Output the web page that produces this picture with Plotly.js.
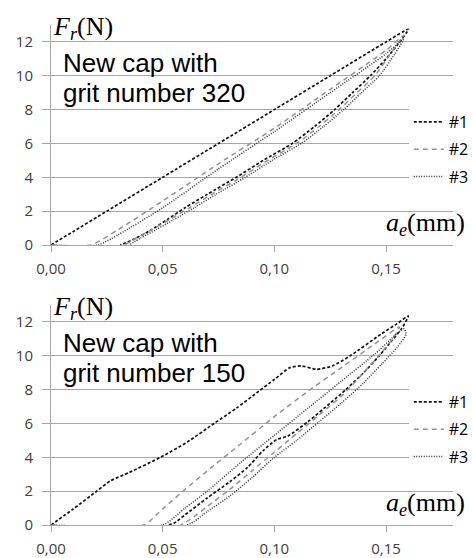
<!DOCTYPE html>
<html>
<head>
<meta charset="utf-8">
<script src="https://cdn.plot.ly/plotly-3.0.1.min.js"></script>
<style>html,body{margin:0;padding:0;background:#fff;}#chart{width:473px;height:558px;}</style>
</head>
<body>
<div id="chart"></div>
<script>
// ---------- Data: grit number 320 (top) ----------
const seriesNames = ["#1", "#2", "#3"];
const g320_1x = [0, 0.01, 0.025, 0.05, 0.075, 0.10, 0.125, 0.15, 0.160, 0.155, 0.150, 0.143, 0.135, 0.127, 0.118, 0.108, 0.095, 0.083, 0.070, 0.060, 0.052, 0.045, 0.038, 0.033, 0.031];
const g320_1y = [0, 0.8, 2.0, 4.0, 6.0, 8.0, 10.0, 12.0, 12.75, 11.8, 11.0, 10.0, 9.0, 8.0, 7.0, 6.0, 5.0, 4.0, 3.0, 2.2, 1.5, 0.9, 0.4, 0.1, 0];
const g320_2x = [0, 0.018, 0.03, 0.05, 0.075, 0.10, 0.125, 0.15, 0.158, 0.153, 0.145, 0.137, 0.129, 0.120, 0.110, 0.097, 0.085, 0.072, 0.062, 0.053, 0.045, 0.038, 0.033];
const g320_2y = [0, 0, 0.9, 2.6, 4.8, 6.9, 9.2, 11.5, 12.4, 11.5, 10.0, 9.0, 8.0, 7.0, 6.0, 5.0, 4.0, 3.0, 2.2, 1.5, 0.9, 0.4, 0];
const g320_3x = [0, 0.021, 0.03, 0.05, 0.075, 0.10, 0.125, 0.15, 0.158, 0.154, 0.147, 0.139, 0.131, 0.122, 0.112, 0.099, 0.087, 0.074, 0.064, 0.055, 0.047, 0.040, 0.035];
const g320_3y = [0, 0, 0.6, 2.2, 4.5, 6.7, 9.0, 11.3, 12.2, 11.3, 10.0, 9.0, 8.0, 7.0, 6.0, 5.0, 4.0, 3.0, 2.2, 1.5, 0.9, 0.4, 0];

// ---------- Data: grit number 150 (bottom) ----------
const g150_1x = [0, 0.01, 0.02, 0.0265, 0.035, 0.049, 0.061, 0.073, 0.083, 0.093, 0.100, 0.107, 0.112, 0.119, 0.126, 0.134, 0.148, 0.155, 0.160, 0.157, 0.152, 0.147, 0.140, 0.132, 0.125, 0.115, 0.106, 0.101, 0.095, 0.088, 0.080, 0.070, 0.060, 0.055, 0.052];
const g150_1y = [0, 0.95, 1.95, 2.6, 3.1, 4.0, 4.9, 6.0, 6.9, 7.9, 8.6, 9.3, 9.4, 9.2, 9.4, 10.0, 11.3, 11.9, 12.35, 11.6, 10.8, 10.0, 9.0, 8.0, 7.2, 6.1, 5.25, 5.05, 4.4, 3.4, 2.55, 1.6, 0.6, 0.1, 0];
const g150_2x = [0, 0.0415, 0.05, 0.06, 0.07, 0.085, 0.10, 0.115, 0.13, 0.145, 0.156, 0.153, 0.148, 0.140, 0.130, 0.120, 0.110, 0.100, 0.090, 0.080, 0.070, 0.062, 0.058];
const g150_2y = [0, 0, 0.95, 2.1, 3.2, 4.8, 6.4, 7.9, 9.3, 10.7, 11.7, 11.0, 10.2, 9.0, 7.6, 6.5, 5.4, 4.3, 3.2, 2.1, 1.1, 0.3, 0];
const g150_3x = [0, 0.050, 0.06, 0.07, 0.085, 0.10, 0.115, 0.13, 0.145, 0.158, 0.159, 0.155, 0.148, 0.140, 0.130, 0.120, 0.110, 0.100, 0.090, 0.080, 0.070, 0.064, 0.061];
const g150_3y = [0, 0, 1.0, 2.0, 3.7, 5.3, 6.9, 8.5, 10.1, 11.6, 11.3, 10.5, 9.5, 8.4, 7.2, 6.1, 5.0, 4.0, 2.8, 1.7, 0.8, 0.2, 0];

const xTickVals = [0, 0.05, 0.10, 0.15];
const xTickText = ["0,00", "0,05", "0,10", "0,15"];
const yTickVals = [0, 2, 4, 6, 8, 10, 12];

// ---------- Styles ----------
const lineStyles = [
  {color: "#111111", width: 1.7, dash: "3px,2px"},
  {color: "#929292", width: 1.5, dash: "5px,4px"},
  {color: "#333333", width: 1.5, dash: "1px,1.5px"}
];

function mk(x, y, i, xa, ya, lg) {
  return {
    x: x, y: y, type: "scatter", mode: "lines", name: seriesNames[i],
    xaxis: xa, yaxis: ya, legend: lg, legendgroup: lg + i,
    line: Object.assign({shape: "spline", smoothing: 0.6}, lineStyles[i]),
    hoverinfo: "skip"
  };
}

const traces = [
  mk(g320_1x, g320_1y, 0, "x", "y", "legend"),
  mk(g320_2x, g320_2y, 1, "x", "y", "legend"),
  mk(g320_3x, g320_3y, 2, "x", "y", "legend"),
  mk(g150_1x, g150_1y, 0, "x2", "y2", "legend2"),
  mk(g150_2x, g150_2y, 1, "x2", "y2", "legend2"),
  mk(g150_3x, g150_3y, 2, "x2", "y2", "legend2")
];

const gridC = "#a6a6a6";
const tickFont = {family: "Open Sans, sans-serif", size: 15, color: "#404040"};
function xax(anchor) {
  return {
    anchor: anchor, domain: [0, 1], range: [0, 0.18],
    tickmode: "array", tickvals: xTickVals, ticktext: xTickText,
    showline: true, linecolor: gridC, linewidth: 1,
    ticks: "outside", ticklen: 6, tickcolor: gridC,
    showgrid: false, zeroline: false, tickfont: tickFont, ticklabelstandoff: 4
  };
}
function yax(anchor, dom) {
  return {
    anchor: anchor, domain: dom, range: [0, 13],
    tickmode: "array", tickvals: yTickVals,
    showline: true, linecolor: gridC, linewidth: 1,
    ticks: "outside", ticklen: 8, tickcolor: gridC,
    showgrid: true, gridcolor: gridC, gridwidth: 1,
    zeroline: false, tickfont: tickFont, ticklabelstandoff: 6
  };
}

const textFont = {family: "Liberation Sans, Arial, sans-serif", size: 26, color: "#000"};
const serifFont = {family: "Liberation Serif, Times New Roman, serif", size: 26, color: "#000"};

function anns(yr, grit) {
  return [
    {xref: "paper", yref: yr, x: 0.025, y: 10.75, xanchor: "left", yanchor: "middle", text: "New cap with", showarrow: false, font: textFont},
    {xref: "paper", yref: yr, x: 0.025, y: 9.0, xanchor: "left", yanchor: "middle", text: "grit number " + grit, showarrow: false, font: textFont},
    {xref: "paper", yref: yr, x: 0.0, y: 12.85, xanchor: "left", yanchor: "middle", text: "<i>F</i><sub><i>r</i></sub>(N)", showarrow: false, font: serifFont},
    {xref: "paper", yref: yr, x: 1.035, y: 1.25, xanchor: "right", yanchor: "middle", text: "<i>a</i><sub><i>e</i></sub>(mm)", showarrow: false, font: serifFont}
  ];
}

const legendBase = {
  x: 0.89, xanchor: "left", yanchor: "top",
  bgcolor: "#ffffff", borderwidth: 0,
  font: {family: "Open Sans, sans-serif", size: 16, color: "#000"},
  tracegroupgap: 3.5, traceorder: "grouped"
};

const layout = {
  width: 473, height: 558,
  margin: {l: 51, r: 20, t: 25, b: 33, autoexpand: false},
  paper_bgcolor: "#ffffff", plot_bgcolor: "#ffffff",
  showlegend: true,
  xaxis: xax("y"), yaxis: yax("x", [0.56, 1]),
  xaxis2: xax("y2"), yaxis2: yax("x2", [0, 0.44]),
  legend: Object.assign({}, legendBase, {y: 0.84}),
  legend2: Object.assign({}, legendBase, {y: 0.28}),
  annotations: anns("y", "320").concat(anns("y2", "150"))
};

Plotly.newPlot("chart", traces, layout, {staticPlot: true, displayModeBar: false});
</script>
</body>
</html>
